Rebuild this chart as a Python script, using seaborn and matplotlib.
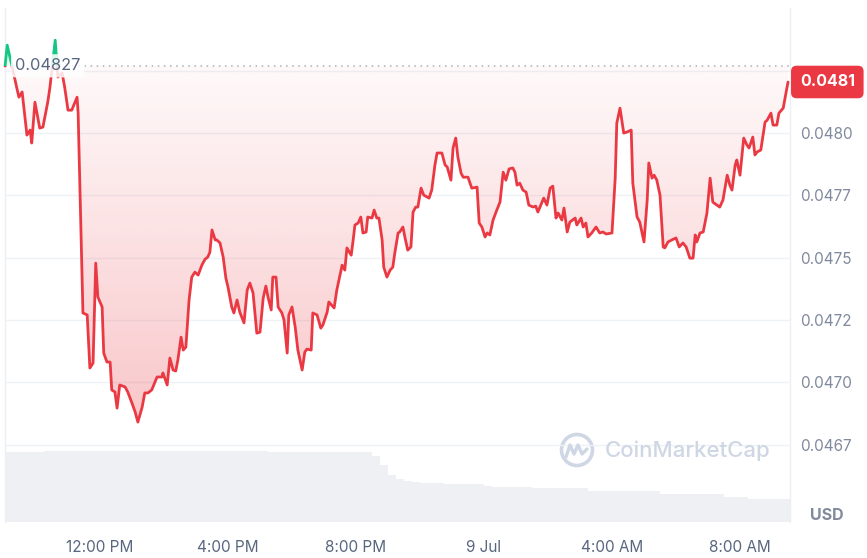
import numpy as np
import pandas as pd
import matplotlib
matplotlib.use("Agg")
import matplotlib.pyplot as plt
import matplotlib.colors as mcolors
import matplotlib.transforms as mtransforms
from matplotlib.path import Path
from matplotlib.patches import PathPatch, Circle, Rectangle
from matplotlib.lines import Line2D
import seaborn as sns

# ---------------- data ----------------
# minutes after 09:00 on 8 Jul
minutes = [2, 6, 15, 24, 28, 34, 43, 49, 52, 58, 67, 73, 82, 86, 96, 101, 109, 114, 120, 127,
           137, 139, 148, 156, 161, 167, 172, 176, 184, 187, 193, 199, 202, 208, 212, 217, 227, 232, 240, 246,
           251, 259, 264, 270, 277, 287, 296, 298, 306, 311, 317, 322, 326, 332, 336, 341, 347, 352, 358, 364,
           371, 377, 382, 386, 390, 396, 399, 405, 411, 416, 420, 427, 431, 437, 442, 450, 456, 461, 467, 474,
           480, 486, 491, 495, 501, 504, 510, 514, 521, 525, 531, 534, 540, 546, 551, 559, 564, 568, 576, 579,
           587, 594, 598, 606, 609, 619, 624, 634, 639, 643, 651, 654, 658, 664, 669, 673, 679, 682, 690, 694,
           699, 703, 709, 712, 718, 724, 729, 733, 739, 742, 748, 752, 757, 763, 767, 772, 776, 782, 787, 797,
           802, 808, 812, 821, 827, 831, 838, 842, 847, 851, 857, 861, 870, 877, 887, 891, 896, 902, 906, 911,
           917, 924, 930, 936, 941, 947, 954, 958, 962, 967, 973, 979, 984, 992, 997, 1001, 1009, 1012, 1018, 1024,
           1029, 1035, 1039, 1046, 1050, 1056, 1061, 1071, 1074, 1082, 1086, 1091, 1095, 1102, 1110, 1117, 1123, 1129, 1140, 1146,
           1149, 1155, 1162, 1168, 1176, 1179, 1187, 1192, 1200, 1206, 1209, 1215, 1219, 1224, 1230, 1236, 1239, 1245, 1252, 1260,
           1266, 1273, 1279, 1286, 1292, 1296, 1299, 1305, 1311, 1318, 1324, 1329, 1337, 1342, 1348, 1356, 1361, 1365, 1371, 1374,
           1380, 1387, 1393, 1397, 1404, 1408, 1412, 1419, 1427, 1431, 1438, 1442, 1449, 1453, 1461, 1470]

price = [0.048269, 0.048353, 0.048269, 0.048181, 0.048144, 0.048165, 0.047992, 0.048012, 0.047960, 0.048124,
         0.048020, 0.048024, 0.048124, 0.048181, 0.048373, 0.048225, 0.048241, 0.048181, 0.048092, 0.048092,
         0.048144, 0.048080, 0.047278, 0.047270, 0.047057, 0.047077, 0.047478, 0.047342, 0.047302, 0.047117,
         0.047081, 0.047081, 0.046969, 0.046961, 0.046896, 0.046989, 0.046981, 0.046961, 0.046916, 0.046880,
         0.046840, 0.046900, 0.046957, 0.046957, 0.046969, 0.047021, 0.047021, 0.047037, 0.046989, 0.047097,
         0.047049, 0.047045, 0.047089, 0.047181, 0.047129, 0.047141, 0.047330, 0.047422, 0.047442, 0.047430,
         0.047470, 0.047494, 0.047502, 0.047522, 0.047611, 0.047571, 0.047571, 0.047559, 0.047502, 0.047418,
         0.047382, 0.047302, 0.047278, 0.047330, 0.047282, 0.047238, 0.047370, 0.047398, 0.047358, 0.047197,
         0.047201, 0.047338, 0.047386, 0.047342, 0.047290, 0.047422, 0.047422, 0.047302, 0.047278, 0.047250,
         0.047117, 0.047270, 0.047302, 0.047221, 0.047129, 0.047049, 0.047121, 0.047133, 0.047129, 0.047278,
         0.047270, 0.047217, 0.047230, 0.047282, 0.047322, 0.047298, 0.047370, 0.047470, 0.047450, 0.047539,
         0.047510, 0.047559, 0.047631, 0.047639, 0.047663, 0.047599, 0.047603, 0.047663, 0.047659, 0.047691,
         0.047659, 0.047659, 0.047571, 0.047462, 0.047422, 0.047450, 0.047462, 0.047522, 0.047599, 0.047603,
         0.047623, 0.047579, 0.047530, 0.047543, 0.047683, 0.047703, 0.047703, 0.047779, 0.047751, 0.047739,
         0.047771, 0.047872, 0.047920, 0.047920, 0.047872, 0.047864, 0.047811, 0.047940, 0.047980, 0.047904,
         0.047839, 0.047823, 0.047823, 0.047779, 0.047783, 0.047639, 0.047623, 0.047583, 0.047599, 0.047591,
         0.047651, 0.047691, 0.047723, 0.047843, 0.047811, 0.047856, 0.047860, 0.047843, 0.047791, 0.047799,
         0.047771, 0.047763, 0.047711, 0.047703, 0.047707, 0.047683, 0.047723, 0.047739, 0.047711, 0.047779,
         0.047787, 0.047659, 0.047679, 0.047651, 0.047699, 0.047603, 0.047643, 0.047659, 0.047631, 0.047659,
         0.047623, 0.047639, 0.047583, 0.047599, 0.047623, 0.047599, 0.047603, 0.047595, 0.047599, 0.047819,
         0.048040, 0.048100, 0.048000, 0.048004, 0.048012, 0.047799, 0.047663, 0.047643, 0.047563, 0.047731,
         0.047880, 0.047819, 0.047831, 0.047811, 0.047751, 0.047543, 0.047539, 0.047563, 0.047571, 0.047579,
         0.047543, 0.047559, 0.047543, 0.047498, 0.047498, 0.047591, 0.047563, 0.047599, 0.047603, 0.047679,
         0.047819, 0.047723, 0.047711, 0.047703, 0.047731, 0.047831, 0.047791, 0.047771, 0.047872, 0.047892,
         0.047831, 0.047980, 0.047952, 0.047940, 0.047984, 0.047912, 0.047924, 0.047932, 0.048044, 0.048052,
         0.048080, 0.048032, 0.048032, 0.048080, 0.048100, 0.048205]

open_price = 0.04827
open_label = "0.04827"
last_label = "0.0481"

# volume, one bar per 15 minutes (relative units)
vol_step_min = 15
volume = [7.0, 7.0, 7.0, 7.0, 7.0,
          7.1, 7.1, 7.1, 7.1, 7.1, 7.15,
          7.15, 7.15, 7.2, 7.15, 7.15, 7.15, 7.15, 7.2, 7.15, 7.15, 7.15, 7.15, 7.15, 7.1, 7.15, 7.15,
          7.15, 7.15, 7.15, 7.1, 7.15, 7.1,
          7.0, 7.0, 7.0, 7.05, 7.0, 7.0, 7.0, 7.05, 7.0, 7.0, 7.0, 7.0, 7.0,
          6.6, 5.7, 4.7, 4.3, 4.1, 4.0, 3.9,
          3.9, 3.9, 3.85, 3.85, 3.85, 3.8, 3.8,
          3.6,
          3.5, 3.5, 3.5, 3.5, 3.5,
          3.4, 3.4, 3.4, 3.4, 3.4, 3.4, 3.4,
          3.1, 3.1, 3.1, 3.1, 3.1, 3.1, 3.1, 3.1, 3.1,
          2.8, 2.8, 2.8, 2.8, 2.8, 2.8, 2.8, 2.8,
          2.5, 2.5, 2.5,
          2.3, 2.3, 2.3, 2.3, 2.3, 2.3]

ytick_vals = [0.04675, 0.04700, 0.04725, 0.04750, 0.04775, 0.04800, 0.04825]
ytick_labels = ["0.0467", "0.0470", "0.0472", "0.0475", "0.0477", "0.0480", ""]
xtick_minutes = [180, 420, 660, 900, 1140, 1380]
xtick_labels = ["12:00 PM", "4:00 PM", "8:00 PM", "9 Jul", "4:00 AM", "8:00 AM"]

# ---------------- style ----------------
sns.set_theme(style="white")
plt.rcParams['font.family'] = ['Inter', 'DejaVu Sans']

RED = '#ea3943'
GREEN = '#16c784'
GRID = '#eff2f5'
TICK = '#808a9d'
XTICK = '#58667e'

W, H = 867, 558
fig = plt.figure(figsize=(W / 100, H / 100), dpi=100)
fig.patch.set_facecolor('white')
L, R, B, T = 5, 790, 522, 8
pos = [L / W, 1 - B / H, (R - L) / W, (B - T) / H]
axv = fig.add_axes(pos)
ax = fig.add_axes(pos)
axv.set_zorder(0)
ax.set_zorder(1)
ax.patch.set_visible(False)

xlo, xhi = 1.875, 1473.75
ylo, yhi = 0.046439, 0.048502

# ---------------- volume ----------------
vol_df = pd.DataFrame({'minute': np.arange(len(volume)) * vol_step_min + vol_step_min / 2,
                       'volume': volume})
sns.barplot(data=vol_df, x='minute', y='volume', native_scale=True, orient='x',
            width=0.93, color='#eef0f4', saturation=1, errorbar=None,
            edgecolor='none', linewidth=0, ax=axv)
axv.set_xlim(xlo, xhi)
axv.set_ylim(0, max(volume) * 514 / 71.5)
axv.set_axis_off()

# ---------------- price ----------------
df = pd.DataFrame({'minute': minutes, 'price': price})
t = np.array(minutes, float)
p = np.array(price)


def grad_fill(where, color, a_near, a_far, y_far):
    coll = ax.fill_between(t, p, open_price, where=where, interpolate=True,
                           facecolor='none', edgecolor='none')
    paths = coll.get_paths()
    if not paths:
        return
    cp = Path.make_compound_path(*paths)
    patch = PathPatch(cp, transform=ax.transData, facecolor='none', edgecolor='none')
    ax.add_patch(patch)
    rgb = mcolors.to_rgb(color)
    n = 256
    img = np.zeros((n, 1, 4))
    img[..., :3] = rgb
    img[:, 0, 3] = np.linspace(a_near, a_far, n)
    if y_far < open_price:
        img = img[::-1]
        extent = [xlo, xhi, y_far, open_price]
    else:
        extent = [xlo, xhi, open_price, y_far]
    im = ax.imshow(img, extent=extent, aspect='auto', origin='lower', zorder=1,
                   interpolation='bilinear')
    im.set_clip_path(patch)


grad_fill(p <= open_price, RED, 0.03, 0.30, 0.04675)
grad_fill(p >= open_price, GREEN, 0.05, 0.35, 0.04840)

ax.axhline(open_price, color='#a6afbf', lw=1.1, linestyle=(0, (1, 3)), zorder=2)

sns.lineplot(data=df, x='minute', y='price', ax=ax, color=RED, linewidth=2.0,
             estimator=None, sort=False, zorder=3)
line_r = ax.lines[-1]
sns.lineplot(data=df, x='minute', y='price', ax=ax, color=GREEN, linewidth=2.0,
             estimator=None, sort=False, zorder=3)
line_g = ax.lines[-1]
for ln in (line_r, line_g):
    ln.set_solid_joinstyle('round')
    ln.set_solid_capstyle('round')
rect_r = Rectangle((xlo - 100, open_price - 1), 3000, 1, transform=ax.transData)
rect_g = Rectangle((xlo - 100, open_price), 3000, 1, transform=ax.transData)
line_r.set_clip_path(rect_r)
line_g.set_clip_path(rect_g)

ax.set_xlim(xlo, xhi)
ax.set_ylim(ylo, yhi)
ax.set_xlabel('')
ax.set_ylabel('')

# axes / ticks
ax.yaxis.tick_right()
ax.set_yticks(ytick_vals, ytick_labels)
ax.set_xticks(xtick_minutes, xtick_labels)
ax.tick_params(axis='y', length=0, pad=7, labelsize=11, labelcolor=TICK)
ax.tick_params(axis='x', length=0, pad=13, labelsize=11, labelcolor=XTICK)
ax.grid(axis='y', color=GRID, lw=1)
ax.grid(axis='x', visible=False)
ax.set_axisbelow(True)
for s in ('top', 'bottom'):
    ax.spines[s].set_visible(False)
for s in ('left', 'right'):
    ax.spines[s].set_color('#eceff3')
    ax.spines[s].set_linewidth(1)

# labels
blend = mtransforms.blended_transform_factory(ax.transAxes, ax.transData)
ax.text(0.0545, open_price, open_label, transform=blend, ha='center', va='center',
        fontsize=11.8, color=XTICK, zorder=5,
        bbox=dict(boxstyle='round,pad=0.25', fc='white', ec='none', alpha=0.85))
ax.text(1.0125, price[-1], last_label, transform=blend, ha='left', va='center',
        fontsize=11.5, fontweight='bold', color='white', zorder=6, clip_on=False,
        bbox=dict(boxstyle='round,pad=0.55,rounding_size=0.35', fc=RED, ec='none'))

fig.text(827 / W, 1 - 516 / H, 'USD', ha='center', va='center', fontsize=11.5,
         fontweight='bold', color=TICK)

# watermark
WM = '#cfd6e4'
tpx = mtransforms.Affine2D().scale(1 / W, 1 / H) + fig.transFigure
fig.add_artist(Circle((577, H - 450), 15.5, transform=tpx, fill=False, lw=2.6, ec=WM))
mx = [566, 570, 574, 578, 582, 587]
my = [457, 445, 454, 445, 454, 449]
fig.add_artist(Line2D(mx, [H - v for v in my], transform=tpx, color=WM, lw=2.4,
                      solid_joinstyle='round', solid_capstyle='round'))
fig.text(605 / W, 1 - 451 / H, 'CoinMarketCap', ha='left', va='center', fontsize=16,
         fontweight='medium', color=WM)

fig.savefig('out.png', dpi=100, facecolor='white')
